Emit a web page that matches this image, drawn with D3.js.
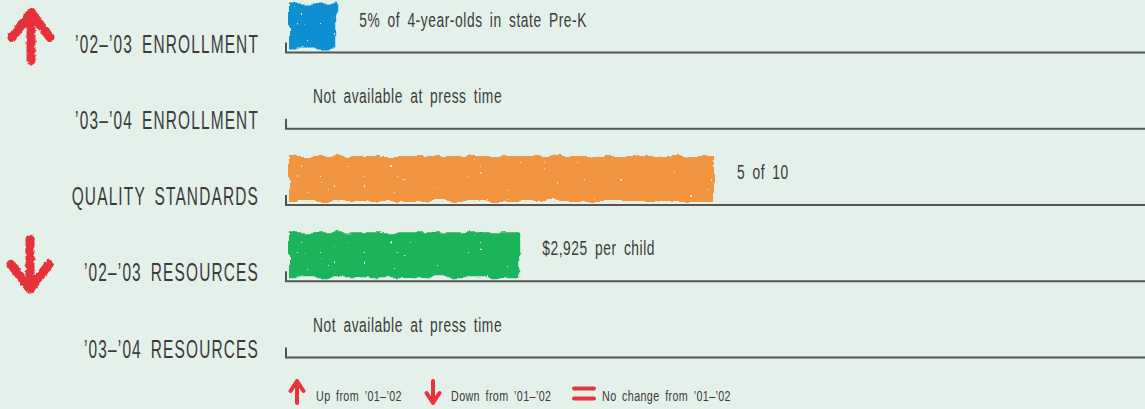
<!DOCTYPE html>
<html><head><meta charset="utf-8">
<script src="https://cdn.jsdelivr.net/npm/d3@7"></script>
<style>
html,body{margin:0;padding:0;background:#e4f1ea;}
svg{display:block;}
text{font-family:"Liberation Sans Narrow","Arial Narrow","Liberation Sans",sans-serif;fill:#3b3b3b;}
</style></head>
<body>
<svg id="chart" width="1145" height="409"></svg>
<script>
const categories = ["’02–’03 ENROLLMENT", "’03–’04 ENROLLMENT", "QUALITY STANDARDS", "’02–’03 RESOURCES", "’03–’04 RESOURCES"];
const values = [5, null, 5, 2925, null];
const valueLabels = ["5% of 4-year-olds in state Pre-K", "Not available at press time", "5 of 10", "$2,925 per child", "Not available at press time"];
const changes = ["up", null, null, "down", null];
const domainMax = [90, 90, 10, 10800, 10800];
const barColors = ["#0a8fd2", "#0a8fd2", "#f2953f", "#1fb45a", "#1fb45a"];
const legendItems = ["up", "down", "same"];
const legendLabels = ["Up from ’01–’02", "Down from ’01–’02", "No change from ’01–’02"];

const W = 1145, H = 409;
const svg = d3.select("#chart");
const defs = svg.append("defs");
const f = defs.append("filter").attr("id","rough").attr("x","-10%").attr("y","-20%").attr("width","120%").attr("height","140%");
f.append("feTurbulence").attr("type","fractalNoise").attr("baseFrequency","0.06").attr("numOctaves",3).attr("seed",4).attr("result","noise");
f.append("feDisplacementMap").attr("in","SourceGraphic").attr("in2","noise").attr("scale",8).attr("xChannelSelector","R").attr("yChannelSelector","G").attr("result","disp");
f.append("feTurbulence").attr("type","fractalNoise").attr("baseFrequency","0.3").attr("numOctaves",1).attr("seed",9).attr("result","spk");
f.append("feColorMatrix").attr("in","spk").attr("type","matrix").attr("values","0 0 0 0 0  0 0 0 0 0  0 0 0 0 0  0 0 0 -60 46").attr("result","mask");
f.append("feComposite").attr("in","disp").attr("in2","mask").attr("operator","in");

const fa = defs.append("filter").attr("id","roughA").attr("x","-20%").attr("y","-20%").attr("width","140%").attr("height","140%");
fa.append("feTurbulence").attr("type","fractalNoise").attr("baseFrequency","0.25").attr("numOctaves",2).attr("seed",2).attr("result","noise");
fa.append("feDisplacementMap").attr("in","SourceGraphic").attr("in2","noise").attr("scale",3).attr("xChannelSelector","R").attr("yChannelSelector","G");

const y = d3.scalePoint().domain(d3.range(categories.length)).range([52.5, 357.5]);
const x0 = 286, x1 = 1145;
const barStart = 289;
const xs = domainMax.map(m => d3.scaleLinear().domain([0, m]).range([barStart, barStart + 850]));

function condensed(sel, x, yy, size, anchor, wordSp, letterSp){
  const g = sel.append("g").attr("transform", `translate(${x},${yy})`);
  const t = g.append("text").attr("x",0).attr("y",0).attr("text-anchor",anchor)
    .attr("font-size",size).style("word-spacing",wordSp+"px").style("letter-spacing",(letterSp||0)+"px");
  return {g, t};
}
function fitGroup(items, refWidth){
  const w = items[0].t.node().getComputedTextLength();
  const k = refWidth / w;
  items.forEach(it => {
    const tr = it.g.attr("transform");
    it.g.attr("transform", tr + ` scale(${k},1)`);
  });
}

const rows = svg.selectAll("g.row").data(categories).join("g").attr("class","row")
  .attr("transform", (d,i) => `translate(0,${y(i)})`);

rows.append("path").attr("d", `M${x0},-10V0H${x1}`).attr("fill","none").attr("stroke","#555").attr("stroke-width",2);

rows.each(function(d,i){
  if (values[i] == null) return;
  d3.select(this).append("rect")
    .attr("x", barStart).attr("y", -49).attr("height", 45)
    .attr("width", xs[i](values[i]) - barStart)
    .attr("fill", barColors[i]).attr("filter","url(#rough)");
});

const catItems = [];
rows.each(function(d,i){
  const it = condensed(d3.select(this), 259, 0, 26.5, "end", 6, 2);
  it.t.text(d);
  catItems.push(it);
});
fitGroup(catItems, 184);

const valItems = [];
rows.each(function(d,i){
  const it = condensed(d3.select(this), values[i] == null ? 313 : xs[i](values[i]) + 23, -26, 19.5, "start", 4, 0.8);
  it.t.text(valueLabels[i]);
  valItems.push(it);
});
fitGroup(valItems, 228);

function arrowPath(type, cx, cy, h, hw, hh){
  if (type === "up") return `M${cx},${cy+h/2}V${cy-h/2}M${cx-hw},${cy-h/2+hh}L${cx},${cy-h/2}L${cx+hw},${cy-h/2+hh}`;
  if (type === "down") return `M${cx},${cy-h/2}V${cy+h/2}M${cx-hw},${cy+h/2-hh}L${cx},${cy+h/2}L${cx+hw},${cy+h/2-hh}`;
  return `M${cx-hw},${cy-hh}H${cx+hw}M${cx-hw},${cy+hh}H${cx+hw}`;
}
rows.each(function(d,i){
  if (!changes[i]) return;
  d3.select(this).append("path")
    .attr("d", changes[i]==="up" ? arrowPath("up", 31, -16, 48, 19, 25) : arrowPath("down", 30, -17, 50, 19, 25))
    .attr("fill","none").attr("stroke","#e8333b").attr("stroke-width",9)
    .attr("stroke-linecap","round").attr("stroke-linejoin","round").attr("filter","url(#roughA)");
});

const legendX = [297, 433, 584];
const lg = svg.selectAll("g.lg").data(legendItems).join("g").attr("class","lg")
  .attr("transform",(d,i)=>`translate(${legendX[i]},${d==="same"?393.5:392})`);
lg.append("path").attr("d", d => d==="same" ? arrowPath("same",0,0,0,10,5) : arrowPath(d, 0, 0, 22, 6.5, 10))
  .attr("fill","none").attr("stroke","#e8333b").attr("stroke-width",4)
  .attr("stroke-linecap","round").attr("stroke-linejoin","round");
const legItems = [];
lg.each(function(d,i){
  const it = condensed(d3.select(this), [19,18,18][i], d==="same"?7.2:8.7, 14.5, "start", 3, 0.5);
  it.t.text(legendLabels[i]);
  legItems.push(it);
});
fitGroup(legItems, 86);
</script>
</body></html>
